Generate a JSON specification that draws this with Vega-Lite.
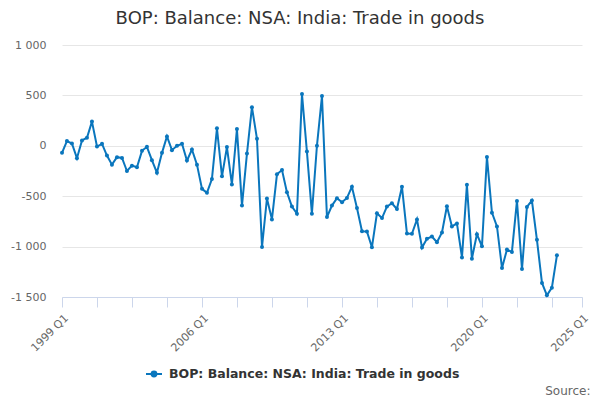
{
  "$schema": "https://vega.github.io/schema/vega-lite/v6.json",
  "autosize": "none",
  "width": 520,
  "height": 252,
  "padding": {"left": 62, "top": 45, "right": 18, "bottom": 103},
  "background": "#ffffff",
  "config": {
    "view": {"stroke": null},
    "font": "DejaVu Sans"
  },
  "title": {
    "text": "BOP: Balance: NSA: India: Trade in goods",
    "font": "DejaVu Sans",
    "fontSize": 18,
    "fontWeight": "normal",
    "color": "#333333",
    "anchor": "middle",
    "dx": -22,
    "offset": 11
  },
  "data": {
    "values": [
      {"date": "1999-01-01", "value": -70},
      {"date": "1999-04-01", "value": 47},
      {"date": "1999-07-01", "value": 23},
      {"date": "1999-10-01", "value": -123},
      {"date": "2000-01-01", "value": 53},
      {"date": "2000-04-01", "value": 80},
      {"date": "2000-07-01", "value": 240},
      {"date": "2000-10-01", "value": -7},
      {"date": "2001-01-01", "value": 20},
      {"date": "2001-04-01", "value": -97},
      {"date": "2001-07-01", "value": -187},
      {"date": "2001-10-01", "value": -113},
      {"date": "2002-01-01", "value": -120},
      {"date": "2002-04-01", "value": -250},
      {"date": "2002-07-01", "value": -197},
      {"date": "2002-10-01", "value": -213},
      {"date": "2003-01-01", "value": -50},
      {"date": "2003-04-01", "value": -10},
      {"date": "2003-07-01", "value": -143},
      {"date": "2003-10-01", "value": -267},
      {"date": "2004-01-01", "value": -70},
      {"date": "2004-04-01", "value": 93},
      {"date": "2004-07-01", "value": -43},
      {"date": "2004-10-01", "value": 0},
      {"date": "2005-01-01", "value": 20},
      {"date": "2005-04-01", "value": -147},
      {"date": "2005-07-01", "value": -37},
      {"date": "2005-10-01", "value": -187},
      {"date": "2006-01-01", "value": -427},
      {"date": "2006-04-01", "value": -467},
      {"date": "2006-07-01", "value": -330},
      {"date": "2006-10-01", "value": 173},
      {"date": "2007-01-01", "value": -303},
      {"date": "2007-04-01", "value": -13},
      {"date": "2007-07-01", "value": -383},
      {"date": "2007-10-01", "value": 167},
      {"date": "2008-01-01", "value": -593},
      {"date": "2008-04-01", "value": -77},
      {"date": "2008-07-01", "value": 383},
      {"date": "2008-10-01", "value": 70},
      {"date": "2009-01-01", "value": -1003},
      {"date": "2009-04-01", "value": -523},
      {"date": "2009-07-01", "value": -730},
      {"date": "2009-10-01", "value": -283},
      {"date": "2010-01-01", "value": -240},
      {"date": "2010-04-01", "value": -460},
      {"date": "2010-07-01", "value": -603},
      {"date": "2010-10-01", "value": -673},
      {"date": "2011-01-01", "value": 513},
      {"date": "2011-04-01", "value": -57},
      {"date": "2011-07-01", "value": -673},
      {"date": "2011-10-01", "value": 0},
      {"date": "2012-01-01", "value": 493},
      {"date": "2012-04-01", "value": -707},
      {"date": "2012-07-01", "value": -593},
      {"date": "2012-10-01", "value": -520},
      {"date": "2013-01-01", "value": -560},
      {"date": "2013-04-01", "value": -517},
      {"date": "2013-07-01", "value": -407},
      {"date": "2013-10-01", "value": -617},
      {"date": "2014-01-01", "value": -847},
      {"date": "2014-04-01", "value": -850},
      {"date": "2014-07-01", "value": -1007},
      {"date": "2014-10-01", "value": -670},
      {"date": "2015-01-01", "value": -717},
      {"date": "2015-04-01", "value": -603},
      {"date": "2015-07-01", "value": -570},
      {"date": "2015-10-01", "value": -627},
      {"date": "2016-01-01", "value": -407},
      {"date": "2016-04-01", "value": -870},
      {"date": "2016-07-01", "value": -873},
      {"date": "2016-10-01", "value": -730},
      {"date": "2017-01-01", "value": -1010},
      {"date": "2017-04-01", "value": -923},
      {"date": "2017-07-01", "value": -900},
      {"date": "2017-10-01", "value": -957},
      {"date": "2018-01-01", "value": -860},
      {"date": "2018-04-01", "value": -600},
      {"date": "2018-07-01", "value": -800},
      {"date": "2018-10-01", "value": -770},
      {"date": "2019-01-01", "value": -1107},
      {"date": "2019-04-01", "value": -387},
      {"date": "2019-07-01", "value": -1120},
      {"date": "2019-10-01", "value": -877},
      {"date": "2020-01-01", "value": -997},
      {"date": "2020-04-01", "value": -110},
      {"date": "2020-07-01", "value": -663},
      {"date": "2020-10-01", "value": -800},
      {"date": "2021-01-01", "value": -1213},
      {"date": "2021-04-01", "value": -1030},
      {"date": "2021-07-01", "value": -1053},
      {"date": "2021-10-01", "value": -547},
      {"date": "2022-01-01", "value": -1223},
      {"date": "2022-04-01", "value": -607},
      {"date": "2022-07-01", "value": -543},
      {"date": "2022-10-01", "value": -933},
      {"date": "2023-01-01", "value": -1360},
      {"date": "2023-04-01", "value": -1483},
      {"date": "2023-07-01", "value": -1407},
      {"date": "2023-10-01", "value": -1087}
    ]
  },
  "mark": {
    "type": "line",
    "strokeWidth": 2,
    "point": {"size": 16, "filled": true}
  },
  "encoding": {
    "x": {
      "field": "date",
      "type": "temporal",
      "scale": {
        "type": "utc",
        "domain": [
          {"year": 1999, "month": 1, "date": 1, "utc": true},
          {"year": 2025, "month": 1, "date": 1, "utc": true}
        ]
      },
      "axis": {
        "title": "Source:",
        "titleFont": "DejaVu Sans",
        "titleFontSize": 12,
        "titleFontWeight": "normal",
        "titleColor": "#666666",
        "titleAnchor": "end",
        "titleAlign": "right",
        "titleBaseline": "alphabetic",
        "titleX": 528,
        "titleY": 97,
        "format": "%Y Q%q",
        "values": [
          {"year": 1999, "month": 1, "date": 1, "utc": true},
          {"year": 2000, "month": 10, "date": 1, "utc": true},
          {"year": 2002, "month": 7, "date": 1, "utc": true},
          {"year": 2004, "month": 4, "date": 1, "utc": true},
          {"year": 2006, "month": 1, "date": 1, "utc": true},
          {"year": 2007, "month": 10, "date": 1, "utc": true},
          {"year": 2009, "month": 7, "date": 1, "utc": true},
          {"year": 2011, "month": 4, "date": 1, "utc": true},
          {"year": 2013, "month": 1, "date": 1, "utc": true},
          {"year": 2014, "month": 10, "date": 1, "utc": true},
          {"year": 2016, "month": 7, "date": 1, "utc": true},
          {"year": 2018, "month": 4, "date": 1, "utc": true},
          {"year": 2020, "month": 1, "date": 1, "utc": true},
          {"year": 2021, "month": 10, "date": 1, "utc": true},
          {"year": 2023, "month": 7, "date": 1, "utc": true},
          {"year": 2025, "month": 1, "date": 1, "utc": true}
        ],
        "labelExpr": "indexof(['1999 Q1','2006 Q1','2013 Q1','2020 Q1','2025 Q1'], datum.label) >= 0 ? datum.label : ''",
        "labelAngle": -45,
        "labelFont": "DejaVu Sans",
        "labelFontSize": 11,
        "labelColor": "#666666",
        "labelPadding": 5,
        "labelOverlap": false,
        "labelFlush": false,
        "grid": false,
        "domainColor": "#ccd6eb",
        "tickColor": "#ccd6eb",
        "tickSize": 10
      }
    },
    "y": {
      "field": "value",
      "type": "quantitative",
      "scale": {"domain": [-1500, 1000], "nice": false, "zero": false},
      "axis": {
        "title": null,
        "values": [-1500, -1000, -500, 0, 500, 1000],
        "labelExpr": "replace(replace(format(datum.value, ','), ',', ' '), '\u2212', '-')",
        "labelFont": "DejaVu Sans",
        "labelFontSize": 11,
        "labelColor": "#666666",
        "labelPadding": 16,
        "domain": false,
        "ticks": false,
        "gridColor": "#e6e6e6",
        "gridWidth": 1
      }
    },
    "color": {
      "datum": "BOP: Balance: NSA: India: Trade in goods",
      "type": "nominal",
      "scale": {"range": ["#0a76bd"]},
      "legend": {
        "title": null,
        "orient": "none",
        "legendX": 83,
        "legendY": 320,
        "labelFont": "DejaVu Sans",
        "labelFontSize": 12.5,
        "labelFontWeight": "bold",
        "labelColor": "#333333",
        "labelLimit": 0,
        "symbolType": "M-1,0H1M-0.3,0a0.3,0.3 0 1,0 0.6,0a0.3,0.3 0 1,0 -0.6,0",
        "symbolSize": 256,
        "symbolStrokeWidth": 2,
        "symbolFillColor": "#0a76bd",
        "labelOffset": 6
      }
    }
  }
}
